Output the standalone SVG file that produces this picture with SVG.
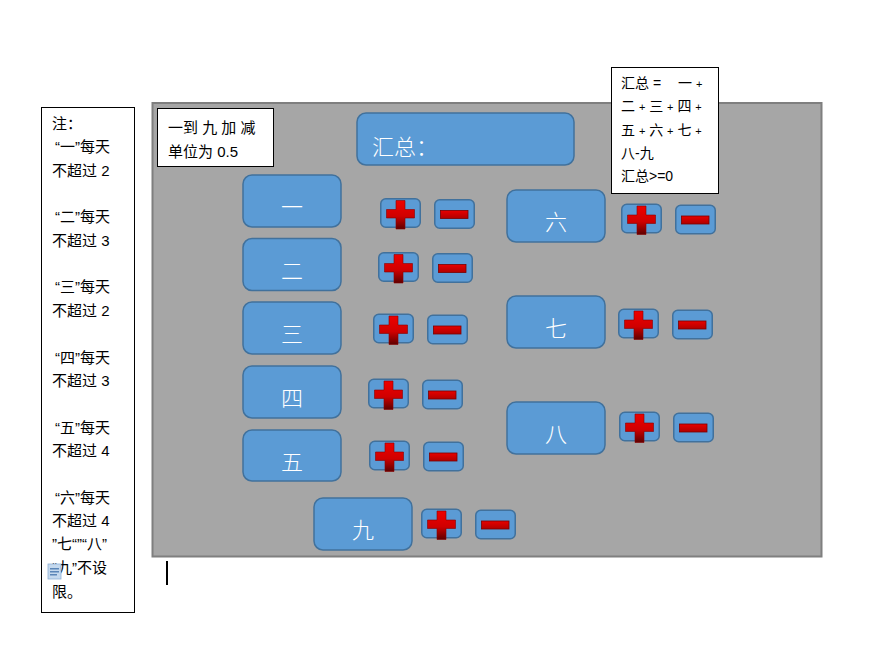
<svg xmlns="http://www.w3.org/2000/svg" width="872" height="658" viewBox="0 0 872 658">
<style>
.note{fill:#fff;stroke:#000;stroke-width:1}
.nt{font-family:"Liberation Sans","Noto Sans CJK SC",sans-serif;font-size:15px;fill:#000}
.st{font-family:"Liberation Sans","Noto Sans CJK SC",sans-serif;font-size:14px;fill:#000}
.box{fill:#5b9bd5;stroke:#41719c;stroke-width:1.5}
.bt{font-family:"Noto Sans CJK SC",sans-serif;font-size:22px;fill:#fff;text-anchor:middle;dominant-baseline:central;font-weight:300}
</style>
<defs>
<linearGradient id="gv" x1="0" y1="0" x2="0" y2="1">
<stop offset="0" stop-color="#ee0000"/>
<stop offset="0.55" stop-color="#d00000"/>
<stop offset="1" stop-color="#5e0000"/>
</linearGradient>
<linearGradient id="gm" x1="0" y1="0" x2="0" y2="1">
<stop offset="0" stop-color="#e80000"/>
<stop offset="1" stop-color="#b00000"/>
</linearGradient>
<g id="plus">
<rect x="0.75" y="0.75" width="39.5" height="28.5" rx="5" fill="#5b9bd5" stroke="#41719c" stroke-width="1.5"/>
<path d="M16,2.5h9v9h9.5v8.5h-9.5v11h-9v-11h-9.5v-8.5h9.5z" fill="url(#gv)" stroke="#8a0000" stroke-width="0.6"/>
</g>
<g id="minus">
<rect x="0.75" y="0.75" width="39.5" height="28.5" rx="5" fill="#5b9bd5" stroke="#41719c" stroke-width="1.5"/>
<rect x="6.5" y="11.5" width="27.5" height="8" fill="url(#gm)" stroke="#7a0000" stroke-width="0.8"/>
</g>
</defs>
<rect width="872" height="658" fill="#fff"/>

<g id="panel">
<rect x="152.5" y="103" width="669" height="453.5" fill="#a6a6a6" stroke="#7f7f7f" stroke-width="2"/>
</g>

<g id="notes">
<rect class="note" x="41.5" y="107.5" width="93" height="505"/>
<text class="nt" x="52" y="129">注：</text>
<text class="nt" x="55" y="152">“一”每天</text>
<text class="nt" x="52" y="176">不超过 2</text>
<text class="nt" x="55" y="222">“二”每天</text>
<text class="nt" x="52" y="246">不超过 3</text>
<text class="nt" x="55" y="292">“三”每天</text>
<text class="nt" x="52" y="316">不超过 2</text>
<text class="nt" x="55" y="363">“四”每天</text>
<text class="nt" x="52" y="386">不超过 3</text>
<text class="nt" x="55" y="433">“五”每天</text>
<text class="nt" x="52" y="456">不超过 4</text>
<text class="nt" x="55" y="503">“六”每天</text>
<text class="nt" x="52" y="526">不超过 4</text>
<text class="nt" x="52" y="549">”七“”“八”</text>
<text class="nt" x="52" y="573">“九”不设</text>
<text class="nt" x="52" y="597">限。</text>
<g id="pasteicon">
<rect x="48" y="564" width="13" height="15" fill="#c5d9ee" stroke="#8fb1d6" stroke-width="0.8"/>
<rect x="50" y="568" width="9" height="1.5" fill="#5b86b8"/>
<rect x="50" y="571" width="9" height="1.5" fill="#5b86b8"/>
<rect x="50" y="574" width="7" height="1.5" fill="#5b86b8"/>
</g>
</g>

<g id="unitnote">
<rect class="note" x="157.5" y="108.5" width="116" height="58"/>
<text class="nt" x="168" y="133">一到 九 加 减</text>
<text class="nt" x="168" y="157">单位为 0.5</text>
</g>

<g id="formula">
<rect class="note" x="611.5" y="67.5" width="107" height="126"/>
<text class="st" x="621" y="88">汇总 =  <tspan x="678">一</tspan> <tspan font-size="11">+</tspan></text>
<text class="st" x="621" y="111">二 <tspan font-size="11">+</tspan> 三 <tspan font-size="11">+</tspan> 四 <tspan font-size="11">+</tspan></text>
<text class="st" x="621" y="135">五 <tspan font-size="11">+</tspan> 六 <tspan font-size="11">+</tspan> 七 <tspan font-size="11">+</tspan></text>
<text class="st" x="621" y="158">八-九</text>
<text class="st" x="621" y="181">汇总&gt;=0</text>
</g>

<g id="sum">
<rect class="box" x="357" y="113" width="217" height="52" rx="9"/>
<text class="bt" x="372" y="145" style="text-anchor:start">汇总：</text>
</g>

<g id="n1"><rect class="box" x="243" y="175" width="98" height="52" rx="9"/><text class="bt" x="292" y="205">一</text>
<use href="#plus" x="380" y="198"/><use href="#minus" x="434" y="199"/></g>
<g id="n2"><rect class="box" x="243" y="238.5" width="98" height="52" rx="9"/><text class="bt" x="292" y="268.5">二</text>
<use href="#plus" x="378" y="252"/><use href="#minus" x="432" y="253"/></g>
<g id="n3"><rect class="box" x="243" y="302" width="98" height="52" rx="9"/><text class="bt" x="292" y="332">三</text>
<use href="#plus" x="373" y="313.5"/><use href="#minus" x="427" y="314.5"/></g>
<g id="n4"><rect class="box" x="243" y="366" width="98" height="52" rx="9"/><text class="bt" x="292" y="396">四</text>
<use href="#plus" x="368" y="378.5"/><use href="#minus" x="422" y="379.5"/></g>
<g id="n5"><rect class="box" x="243" y="430" width="98" height="51" rx="9"/><text class="bt" x="292" y="460">五</text>
<use href="#plus" x="369" y="440.5"/><use href="#minus" x="423" y="441.5"/></g>
<g id="n6"><rect class="box" x="507" y="190" width="98" height="52" rx="9"/><text class="bt" x="556" y="220">六</text>
<use href="#plus" x="621" y="203.5"/><use href="#minus" x="675" y="204.5"/></g>
<g id="n7"><rect class="box" x="507" y="296" width="98" height="52" rx="9"/><text class="bt" x="556" y="326">七</text>
<use href="#plus" x="618" y="308.5"/><use href="#minus" x="672" y="309.5"/></g>
<g id="n8"><rect class="box" x="507" y="402" width="98" height="52" rx="9"/><text class="bt" x="556" y="432">八</text>
<use href="#plus" x="619" y="411.5"/><use href="#minus" x="673" y="412.5"/></g>
<g id="n9"><rect class="box" x="314" y="498" width="98" height="52" rx="9"/><text class="bt" x="363" y="528">九</text>
<use href="#plus" x="421" y="508.5"/><use href="#minus" x="475" y="509.5"/></g>

<g id="connectors"></g>

<rect x="166" y="561" width="2" height="24" fill="#000"/>
</svg>
